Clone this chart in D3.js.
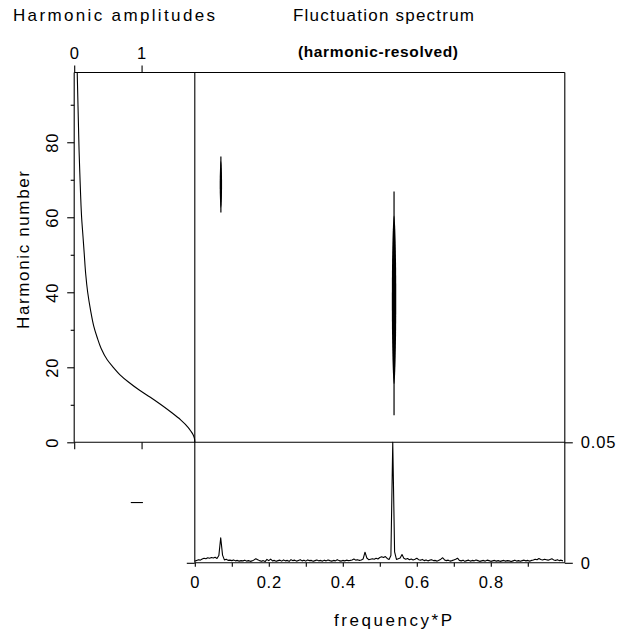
<!DOCTYPE html>
<html><head><meta charset="utf-8">
<script src="https://cdn.jsdelivr.net/npm/d3@7"></script>
<style>
body{margin:0;background:#fff;}
svg text{font-family:"Liberation Sans",Arial,sans-serif;fill:#000;}
</style></head>
<body><svg id="c" width="617" height="633"></svg>
<script>
// ---------- data ----------
// Left panel: harmonic amplitude profile
const harmonics  = [0, 1, 2, 3, 4, 6, 8, 10, 12, 14, 16, 18, 20, 22, 25, 28, 31, 35, 40, 45, 50, 55, 60, 66, 72, 78, 84, 90, 98.5];
const amplitudes = [1.79, 1.785, 1.765, 1.73, 1.69, 1.58, 1.44, 1.29, 1.13, 0.96, 0.81, 0.68, 0.58, 0.49, 0.40, 0.34, 0.29, 0.245, 0.20, 0.17, 0.15, 0.13, 0.11, 0.095, 0.083, 0.072, 0.064, 0.056, 0.045];
const ampTicks = [0, 1];
const ampTickLabels = ["0", "1"];
const harmTicks = [0, 20, 40, 60, 80];
const harmMinorTicks = [10, 30, 50, 70, 90];

// Bottom panel: integrated fluctuation spectrum (units of 1e-3), frequency step 0.005 from 0
const specStep = 0.005;
const spectrum = [
0.7,1.0,1.3,1.1,1.6,1.9,1.7,2.1,1.9,2.2, 2.0,2.3,1.8,3.0,10.4,3.2,1.2,1.5,1.0,1.1,
0.9,1.2,0.8,1.0,0.7,0.9,0.8,1.1,0.7,0.9, 0.6,0.8,1.2,1.7,1.3,0.9,0.6,0.9,0.5,1.4,
0.9,1.5,0.8,1.0,0.6,0.9,1.1,0.7,1.2,0.8, 1.0,0.6,1.3,0.9,1.1,0.7,1.0,1.3,0.8,1.1,
0.7,1.2,0.9,1.0,0.6,0.9,1.2,0.8,1.0,0.7, 1.1,0.8,1.2,0.9,0.7,1.0,0.8,1.3,0.9,0.7,
1.0,0.8,1.1,0.9,1.0,1.2,1.6,1.1,1.3,1.0, 1.2,1.6,4.4,2.0,1.3,1.5,1.7,1.5,1.9,1.6,
2.2,2.5,2.2,2.6,1.8,1.4,3.0,50.0,4.5,1.4, 1.7,2.0,3.4,1.9,1.5,1.8,1.3,1.6,1.2,1.5,
1.9,1.3,1.1,1.4,0.9,1.2,0.8,1.1,1.3,0.9, 1.0,0.7,1.1,1.5,2.1,1.2,0.9,1.1,0.7,0.9,
1.2,1.5,1.9,1.0,0.8,1.1,0.6,0.9,1.1,0.7, 1.0,0.8,1.2,0.9,0.6,0.8,1.0,0.7,1.1,0.9,
0.6,0.8,1.0,0.7,0.9,0.6,0.8,1.0,0.7,0.9, 0.8,0.5,0.8,1.1,0.7,0.9,0.6,0.9,1.1,0.8,
1.0,0.7,1.0,1.2,1.5,1.3,1.8,1.4,1.2,1.5, 1.3,1.1,1.4,1.7,1.2,1.0,1.3,0.9,1.1,0.8];
const freqTicks = [0, 0.1, 0.2, 0.3, 0.4, 0.5, 0.6, 0.7, 0.8, 0.9];
const freqLabelTicks = [0, 0.2, 0.4, 0.6, 0.8];
const freqLabels = ["0", "0.2", "0.4", "0.6", "0.8"];
const powTicks = [0, 0.05];
const powTickLabels = ["0", "0.05"];

// Main panel: harmonic-resolved features (contour blobs)
const blobFreq     = [0.0705, 0.5385];
const blobLineLo   = [61.3, 7.2];
const blobLineHi   = [76.2, 66.9];
const blobCoreLo   = [62.5, 15.5];
const blobCoreHi   = [75.0, 60.5];
const blobHalfW    = [0.0032, 0.0060];

// ---------- scales ----------
const svg = d3.select("#c");
const xF   = d3.scaleLinear().domain([0, 1]).range([194.8, 564.8]);
const yPow = d3.scaleLinear().domain([0, 0.05]).range([562.8, 442.3]);
const yH   = d3.scaleLinear().domain([0, 98.6]).range([442.3, 72.5]);
const xA   = d3.scaleLinear().domain([0, 1.79]).range([74.2, 194.8]);

const black = "#000";
const FONT = "'Liberation Sans', Arial, sans-serif";
const g = svg.append("g");

// ---------- frame lines ----------
function ln(x1, y1, x2, y2, w) {
  g.append("line").attr("x1", x1).attr("y1", y1).attr("x2", x2).attr("y2", y2)
   .attr("stroke", black).attr("stroke-width", w || 1.1);
}
ln(xA(0), yH(98.6), xF(1), yH(98.6));        // top
ln(xA(0), yH(98.6), xA(0), yH(0));           // left panel left
ln(xF(0), yH(98.6), xF(0), yPow(0));         // divider
ln(xF(1), yH(98.6), xF(1), yPow(0));         // right border
ln(xA(0), yH(0), xF(1), yH(0));              // middle line
ln(xF(0), yPow(0), xF(1), yPow(0));          // bottom

function styleAxis(sel) {
  sel.select(".domain").remove();
  sel.selectAll(".tick line").attr("stroke", black).attr("stroke-width", 1.1);
  sel.selectAll(".tick text").attr("fill", black).style("font-size", "16.5px")
     .style("font-family", FONT).style("letter-spacing", "0.8px");
}

// harmonic axis (left)
const ha = svg.append("g").attr("transform", `translate(${xA(0)},0)`)
  .call(d3.axisLeft(yH).tickValues(harmTicks).tickSize(7).tickFormat(d3.format("d")));
styleAxis(ha);
ha.selectAll(".tick text").attr("x", null).attr("dy", null).attr("text-anchor", "middle")
  .attr("transform", "translate(-16,0) rotate(-90)");
const hm = svg.append("g").attr("transform", `translate(${xA(0)},0)`)
  .call(d3.axisLeft(yH).tickValues(harmMinorTicks).tickSize(3.5).tickFormat(""));
styleAxis(hm);

// amplitude axis (top)
const at = svg.append("g").attr("transform", `translate(0,${yH(98.6)})`)
  .call(d3.axisTop(xA).tickValues(ampTicks).tickSize(7).tickPadding(7).tickFormat((d, i) => ampTickLabels[i]));
styleAxis(at);
const ab = svg.append("g").attr("transform", `translate(0,${yH(0)})`)
  .call(d3.axisBottom(xA).tickValues(ampTicks).tickSize(7).tickFormat(""));
styleAxis(ab);

// frequency axis (bottom)
const fa = svg.append("g").attr("transform", `translate(0,${yPow(0)})`)
  .call(d3.axisBottom(xF).tickValues(freqTicks).tickSize(4).tickPadding(9.5)
    .tickFormat(d => { const k = freqLabelTicks.findIndex(v => Math.abs(v - d) < 1e-9); return k >= 0 ? freqLabels[k] : ""; }));
styleAxis(fa);

// power axis (right)
const pa = svg.append("g").attr("transform", `translate(${xF(1)},0)`)
  .call(d3.axisRight(yPow).tickValues(powTicks).tickSize(8).tickPadding(8).tickFormat((d, i) => powTickLabels[i]));
styleAxis(pa);
const pl = svg.append("g").attr("transform", `translate(${xF(0)},0)`)
  .call(d3.axisLeft(yPow).tickValues([0]).tickSize(8).tickFormat(""));
styleAxis(pl);

// ---------- left panel curve ----------
const ampPts = harmonics.map((h, i) => [amplitudes[i], h]);
svg.append("path").datum(ampPts)
  .attr("d", d3.line().x(d => xA(d[0])).y(d => yH(d[1])).curve(d3.curveMonotoneY))
  .attr("fill", "none").attr("stroke", black).attr("stroke-width", 1.1);

// ---------- spectrum ----------
const specPts = spectrum.map((v, i) => [i * specStep, v / 1000]);
svg.append("path").datum(specPts)
  .attr("d", d3.line().x(d => xF(d[0])).y(d => yPow(d[1])))
  .attr("fill", "none").attr("stroke", black).attr("stroke-width", 1.1).attr("stroke-linejoin", "round");

// ---------- blobs ----------
blobFreq.forEach((f, i) => {
  svg.append("line").attr("x1", xF(f)).attr("x2", xF(f))
    .attr("y1", yH(blobLineLo[i])).attr("y2", yH(blobLineHi[i]))
    .attr("stroke", black).attr("stroke-width", 1.2);
  const cy = yH((blobCoreLo[i] + blobCoreHi[i]) / 2);
  const ry = Math.abs(yH(blobCoreHi[i]) - yH(blobCoreLo[i])) / 2;
  const rx = xF(f + blobHalfW[i]) - xF(f);
  svg.append("ellipse").attr("cx", xF(f)).attr("cy", cy).attr("rx", rx).attr("ry", ry)
    .attr("fill", black);
});

// small dash mark in lower-left region
svg.append("line").attr("x1", xA(0.84)).attr("x2", xA(1.02))
  .attr("y1", yPow(0.025)).attr("y2", yPow(0.025)).attr("stroke", black).attr("stroke-width", 1.1);

// ---------- titles ----------
function txt(s, x, y, len, opts) {
  const t = svg.append("text").attr("x", x).attr("y", y).text(s)
    .style("font-size", (opts && opts.size) || "17px");
  if (len) t.attr("textLength", len).attr("lengthAdjust", "spacing");
  if (opts && opts.bold) t.style("font-weight", "bold");
  if (opts && opts.anchor) t.attr("text-anchor", opts.anchor);
  if (opts && opts.transform) t.attr("transform", opts.transform);
  return t;
}
txt("Harmonic amplitudes", 13, 21, 202);
txt("Fluctuation spectrum", 293, 21, 181);
txt("(harmonic-resolved)", 298, 57, 160, {bold: true, size: "15.5px"});
txt("frequency*P", 334, 626, 118);
txt("Harmonic number", 0, 0, 158, {anchor: "middle", transform: "translate(29,250) rotate(-90)"});
</script></body></html>
